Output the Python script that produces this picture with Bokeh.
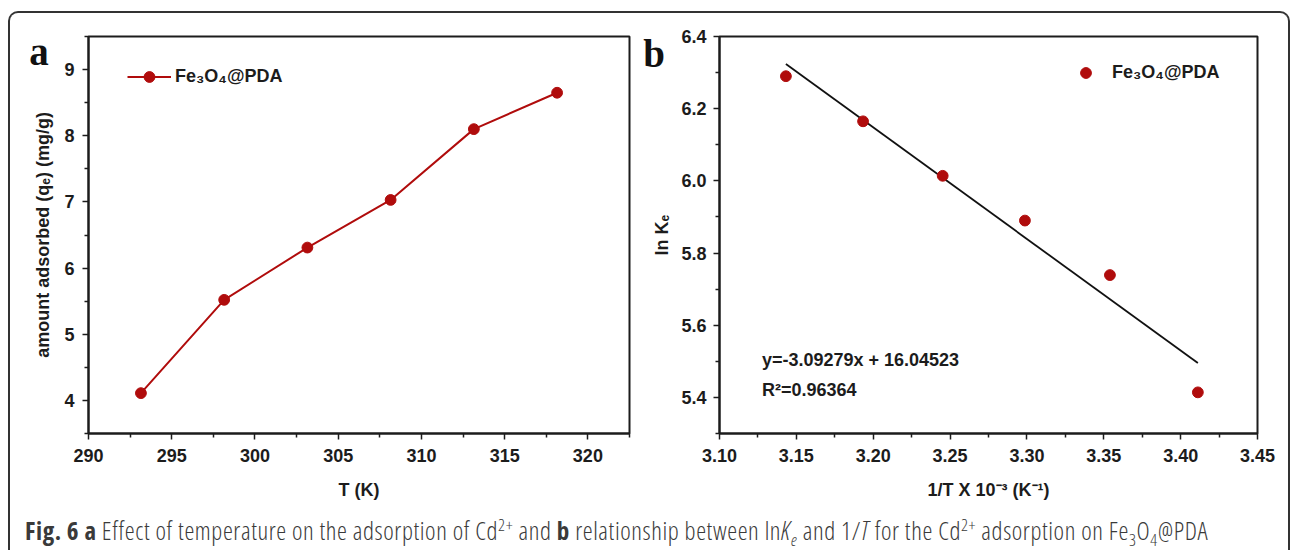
from bokeh.plotting import figure
from bokeh.models import (Range1d, FixedTicker, NumeralTickFormatter, Label,
                          Legend, LegendItem, Div)
from bokeh.layouts import column, row
from bokeh.embed import file_html
from bokeh.resources import INLINE

# ---------------- data ----------------
T_K = [293.15, 298.15, 303.15, 308.15, 313.15, 318.15]
qe = [4.11, 5.52, 6.31, 7.03, 8.10, 8.65]

inv_T = [3.1432, 3.1934, 3.2452, 3.2987, 3.3540, 3.4112]
lnKe = [6.290, 6.165, 6.014, 5.890, 5.739, 5.414]

fit_slope = -3.09279
fit_intercept = 16.04523
fit_r2 = 0.96364
fit_x = [min(inv_T), max(inv_T)]
fit_y = [fit_slope * x + fit_intercept for x in fit_x]

a_xticks = [290, 295, 300, 305, 310, 315, 320]
a_yticks = [4, 5, 6, 7, 8, 9]
b_xticks = [3.10, 3.15, 3.20, 3.25, 3.30, 3.35, 3.40, 3.45]
b_yticks = [5.4, 5.6, 5.8, 6.0, 6.2, 6.4]

series_name = "Fe\u2083O\u2084@PDA"

RED = "#b00c0c"
INK = "#1c1c1c"
FONT = "'Liberation Sans', Arial, sans-serif"
SERIF = "'Liberation Serif', 'Times New Roman', serif"


def style_axes(p, xlab_standoff, ylab_standoff, ytick_standoff):
    p.outline_line_color = INK
    p.outline_line_width = 2
    p.xgrid.visible = False
    p.ygrid.visible = False
    p.background_fill_color = "white"
    p.border_fill_color = None
    for ax in (p.xaxis[0], p.yaxis[0]):
        ax.axis_line_color = INK
        ax.axis_line_width = 2
        ax.major_tick_line_color = INK
        ax.minor_tick_line_color = INK
        ax.major_tick_line_width = 1.5
        ax.minor_tick_line_width = 1.5
        ax.major_tick_in = 0
        ax.major_tick_out = 6
        ax.minor_tick_in = 0
        ax.minor_tick_out = 4
        ax.major_label_text_font = FONT
        ax.major_label_text_font_style = "bold"
        ax.major_label_text_font_size = "18px"
        ax.major_label_text_color = INK
        ax.axis_label_text_font = FONT
        ax.axis_label_text_font_style = "bold"
        ax.axis_label_text_font_size = "18px"
        ax.axis_label_text_color = INK
    p.xaxis[0].major_label_standoff = 9
    p.yaxis[0].major_label_standoff = ytick_standoff
    p.xaxis[0].axis_label_standoff = xlab_standoff
    p.yaxis[0].axis_label_standoff = ylab_standoff


# ---------------- panel a ----------------
pa = figure(width=630, height=496, x_range=Range1d(290, 322.5),
            y_range=Range1d(3.5, 9.5), min_border_left=77, min_border_right=11,
            min_border_top=20, min_border_bottom=76,
            output_backend="svg", toolbar_location=None)
style_axes(pa, 15, 8, 8)
pa.xaxis[0].ticker = FixedTicker(ticks=a_xticks,
                                 minor_ticks=[t + 2.5 for t in a_xticks])
pa.yaxis[0].ticker = FixedTicker(ticks=a_yticks,
                                 minor_ticks=[t - 0.5 for t in a_yticks] + [9.5])
pa.xaxis[0].axis_label = "T (K)"
pa.yaxis[0].axis_label = "amount adsorbed (q\u2091) (mg/g)"

la = pa.line(T_K, qe, line_color=RED, line_width=2)
sa = pa.scatter(T_K, qe, size=10.8, fill_color=RED, line_color=RED)
leg_a = Legend(items=[LegendItem(label=series_name, renderers=[la, sa])],
               location=(39, 343), glyph_width=44, glyph_height=27,
               label_standoff=4, padding=0, margin=0, spacing=0,
               border_line_alpha=0, background_fill_alpha=0,
               label_text_font=FONT, label_text_font_style="bold",
               label_text_font_size="18px", label_text_color=INK)
pa.add_layout(leg_a)
pa.add_layout(Label(x=287.03, y=9.274, text="a", text_font=SERIF,
                    text_font_style="bold", text_font_size="39px",
                    text_align="center", text_baseline="middle",
                    text_color="#111111"), "left")

# ---------------- panel b ----------------
pb = figure(width=648, height=496, x_range=Range1d(3.10, 3.45),
            y_range=Range1d(5.3, 6.4), min_border_left=79, min_border_right=31,
            min_border_top=23, min_border_bottom=76,
            output_backend="svg", toolbar_location=None)
style_axes(pb, 15, 6, 7)
pb.xaxis[0].ticker = FixedTicker(ticks=b_xticks,
                                 minor_ticks=[round(t + 0.025, 3) for t in b_xticks])
pb.yaxis[0].ticker = FixedTicker(ticks=b_yticks,
                                 minor_ticks=[round(t - 0.1, 2) for t in b_yticks])
pb.xaxis[0].formatter = NumeralTickFormatter(format="0.00")
pb.yaxis[0].formatter = NumeralTickFormatter(format="0.0")
pb.xaxis[0].axis_label = "1/T X 10\u207b\u00b3 (K\u207b\u00b9)"
pb.yaxis[0].axis_label = "ln K\u2091"

pb.line(fit_x, fit_y, line_color="#111111", line_width=1.8)
sb = pb.scatter(inv_T, lnKe, size=10.8, fill_color=RED, line_color=RED)
leg_b = Legend(items=[LegendItem(label=series_name, renderers=[sb])],
               location=(353, 347), glyph_width=27, glyph_height=27,
               label_standoff=13, padding=0, margin=0, spacing=0,
               border_line_alpha=0, background_fill_alpha=0,
               label_text_font=FONT, label_text_font_style="bold",
               label_text_font_size="18px", label_text_color=INK)
pb.add_layout(leg_b)
pb.add_layout(Label(x=3.1276, y=5.5029,
                    text="y=%.5fx + %.5f" % (fit_slope, fit_intercept),
                    text_font=FONT, text_font_style="bold", text_font_size="18px",
                    text_align="left", text_baseline="middle", text_color=INK))
pb.add_layout(Label(x=3.1276, y=5.4216, text="R\u00b2=%.5f" % fit_r2,
                    text_font=FONT, text_font_style="bold", text_font_size="18px",
                    text_align="left", text_baseline="middle", text_color=INK))
# panel letter placed via the (empty) right side panel so it is not clipped
pb.add_layout(Label(x=3.0575, y=6.3535, text="b", text_font=SERIF,
                    text_font_style="bold", text_font_size="39px",
                    text_align="center", text_baseline="middle",
                    text_color="#111111"), "right")

# ---------------- caption ----------------
SUP = "<sup style='line-height:0;font-size:68%'>"
SUB = "<sub style='line-height:0;font-size:68%'>"
cap_html = (
    "<div style=\"padding:6px 0 0 15px; font-family:'Open Sans', sans-serif; "
    "font-size:25px; font-weight:300; font-stretch:87.5%; letter-spacing:0.6px; "
    "line-height:30px; color:#3a3a3a; white-space:nowrap;\">"
    "<b style='font-weight:700'>Fig. 6</b> <b style='font-weight:700'>a</b> "
    "Effect of temperature on the adsorption of Cd" + SUP + "2+</sup> and "
    "<b style='font-weight:700'>b</b> relationship between ln<i>K" + SUB + "e</sub></i> "
    "and 1/<i>T</i> for the Cd" + SUP + "2+</sup> adsorption on "
    "Fe" + SUB + "3</sub>O" + SUB + "4</sub>@PDA</div>"
)
cap = Div(text=cap_html, width=1278, height=41, margin=0)

layout = column(row(pa, pb), cap,
                styles={"border": "2px solid #333", "border-bottom": "none",
                        "border-radius": "10px 10px 0 0",
                        "margin-left": "8px", "margin-top": "11px"})

open("out.html", "w").write(file_html(layout, INLINE))
